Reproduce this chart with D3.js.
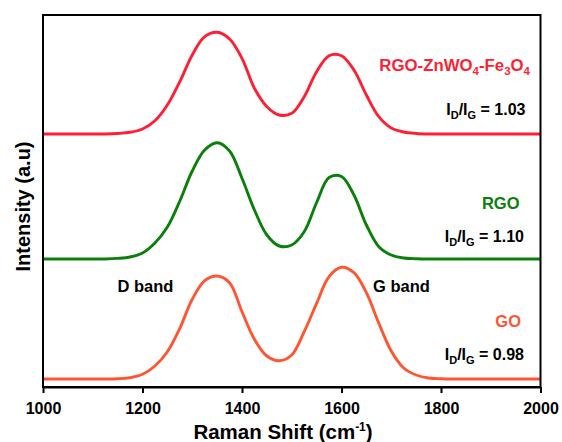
<!DOCTYPE html>
<html>
<head>
<meta charset="utf-8">
<script src="https://cdn.jsdelivr.net/npm/d3@7"></script>
<style>
  html, body { margin: 0; padding: 0; background: #fff; }
  svg { display: block; }
  text { font-family: "Liberation Sans", Arial, sans-serif; font-weight: bold; }
</style>
</head>
<body>
<svg id="chart" width="562" height="442"></svg>
<script>
// ---- data ----
const ramanShift = [1000, 1025, 1050, 1075, 1100, 1125, 1150, 1175, 1200, 1225, 1250, 1275, 1300, 1325, 1350, 1375, 1400, 1425, 1450, 1475, 1500, 1525, 1550, 1575, 1600, 1625, 1650, 1675, 1700, 1725, 1750, 1775, 1800, 1825, 1850, 1875, 1900, 1925, 1950, 1975, 2000];

// stacked (offset) intensities, arbitrary units
const goIntensity = [8, 8, 8, 8, 8, 8, 8.3, 9.3, 12.7, 21, 35.3, 58.7, 87.7, 106.3, 111, 104.3, 75.3, 47.7, 31, 26.3, 32, 55.3, 83.7, 110.3, 119.7, 114.3, 94.3, 63.7, 36, 19, 12, 9, 8.3, 8, 8, 8, 8, 8, 8, 8, 8];
const rgoIntensity = [128, 128, 128, 128, 128, 128, 128.6, 130, 134, 144, 160, 186, 216, 237, 244.3, 236, 208.7, 177, 152, 141, 142, 155.3, 184.5, 209.5, 210.5, 192, 162, 140.3, 132, 129, 128.3, 128, 128, 128, 128, 128, 128, 128, 128, 128, 128];
const compositeIntensity = [253, 253, 253, 253, 253, 253, 253.5, 254.7, 258, 266.3, 282, 305.3, 332, 350.3, 354.7, 348, 328.7, 298.7, 280.3, 272, 273.7, 290.3, 315.3, 331.3, 331.3, 317, 292, 270.3, 259, 255, 253.5, 253, 253, 253, 253, 253, 253, 253, 253, 253, 253];

const xTickValues = [1000, 1200, 1400, 1600, 1800, 2000];
const seriesColors = ["#ff5533", "#0a800a", "#ff1f33"];
const ratioValues = ["0.98", "1.10", "1.03"];
const bandLabels = ["D band", "G band"];

// ---- layout ----
const svg = d3.select("#chart");
const plotLeft = 43, plotRight = 540.5, plotTop = 15, plotBottom = 387;

const x = d3.scaleLinear().domain([1000, 2000]).range([plotLeft, plotRight]);
const y = d3.scaleLinear().domain([0, 372]).range([plotBottom, plotTop]);

const series = [goIntensity, rgoIntensity, compositeIntensity];

const line = d3.line()
  .x(d => x(d[0]))
  .y(d => y(d[1]))
  .curve(d3.curveCatmullRom.alpha(0.5));

svg.append("g").selectAll("path")
  .data(series)
  .join("path")
  .attr("d", vals => line(ramanShift.map((r, i) => [r, vals[i]])))
  .attr("fill", "none")
  .attr("stroke", (d, i) => seriesColors[i])
  .attr("stroke-width", 2.9)
  .attr("stroke-linejoin", "round");

// frame
svg.append("rect")
  .attr("x", plotLeft).attr("y", plotTop)
  .attr("width", plotRight - plotLeft).attr("height", plotBottom - plotTop)
  .attr("fill", "none").attr("stroke", "#000").attr("stroke-width", 2);

// bottom axis
const xAxis = d3.axisBottom(x).tickValues(xTickValues).tickSize(6).tickSizeOuter(0).tickFormat(d3.format("d"));
const ax = svg.append("g").attr("transform", `translate(0,${plotBottom})`).call(xAxis);
ax.select(".domain").attr("stroke", "#000").attr("stroke-width", 2);
ax.selectAll(".tick line").attr("stroke", "#000").attr("stroke-width", 2);
ax.selectAll(".tick text")
  .attr("y", 27).attr("dy", null)
  .attr("fill", "#000")
  .style("font-size", "16px")
  .style("font-family", "'Liberation Sans', Arial, sans-serif")
  .style("font-weight", "bold");

// axis titles
const xt = svg.append("text")
  .attr("x", 283).attr("y", 439)
  .attr("text-anchor", "middle")
  .style("font-size", "20.5px")
  .attr("fill", "#000");
xt.append("tspan").text("Raman Shift (cm");
xt.append("tspan").text("-1").attr("dy", -8).style("font-size", "12px");
xt.append("tspan").text(")").attr("dy", 8);

svg.append("text")
  .attr("transform", "translate(29.5,206.5) rotate(-90)")
  .attr("text-anchor", "middle")
  .style("font-size", "20px")
  .attr("fill", "#000")
  .text("Intensity (a.u)");

// sample labels
function ratioLabel(xEnd, yBase, value) {
  const t = svg.append("text")
    .attr("x", xEnd).attr("y", yBase)
    .attr("text-anchor", "end")
    .style("font-size", "16px")
    .attr("fill", "#000");
  t.append("tspan").text("I");
  t.append("tspan").text("D").attr("dy", 4).style("font-size", "11px");
  t.append("tspan").text("/I").attr("dy", -4);
  t.append("tspan").text("G").attr("dy", 4).style("font-size", "11px");
  t.append("tspan").text(" = " + value).attr("dy", -4);
}

// composite name with subscripts
const cn = svg.append("text")
  .attr("x", 530).attr("y", 70.5)
  .attr("text-anchor", "end")
  .style("font-size", "16.8px")
  .attr("fill", seriesColors[2]);
cn.append("tspan").text("RGO-ZnWO");
cn.append("tspan").text("4").attr("dy", 4).style("font-size", "11.5px");
cn.append("tspan").text("-Fe").attr("dy", -4);
cn.append("tspan").text("3").attr("dy", 4).style("font-size", "11.5px");
cn.append("tspan").text("O").attr("dy", -4);
cn.append("tspan").text("4").attr("dy", 4).style("font-size", "11.5px");

ratioLabel(525.5, 114.5, ratioValues[2]);

svg.append("text")
  .attr("x", 519.5).attr("y", 208.5)
  .attr("text-anchor", "end")
  .style("font-size", "16.5px")
  .attr("fill", seriesColors[1])
  .text("RGO");
ratioLabel(524, 241.5, ratioValues[1]);

svg.append("text")
  .attr("x", 521).attr("y", 327)
  .attr("text-anchor", "end")
  .style("font-size", "16.5px")
  .attr("fill", seriesColors[0])
  .text("GO");
ratioLabel(524, 359.5, ratioValues[0]);

// band labels
svg.append("text")
  .attr("x", 117.5).attr("y", 292.3)
  .style("font-size", "16.5px")
  .attr("fill", "#000")
  .text(bandLabels[0]);
svg.append("text")
  .attr("x", 373).attr("y", 292.3)
  .style("font-size", "16.5px")
  .attr("fill", "#000")
  .text(bandLabels[1]);
</script>
</body>
</html>
